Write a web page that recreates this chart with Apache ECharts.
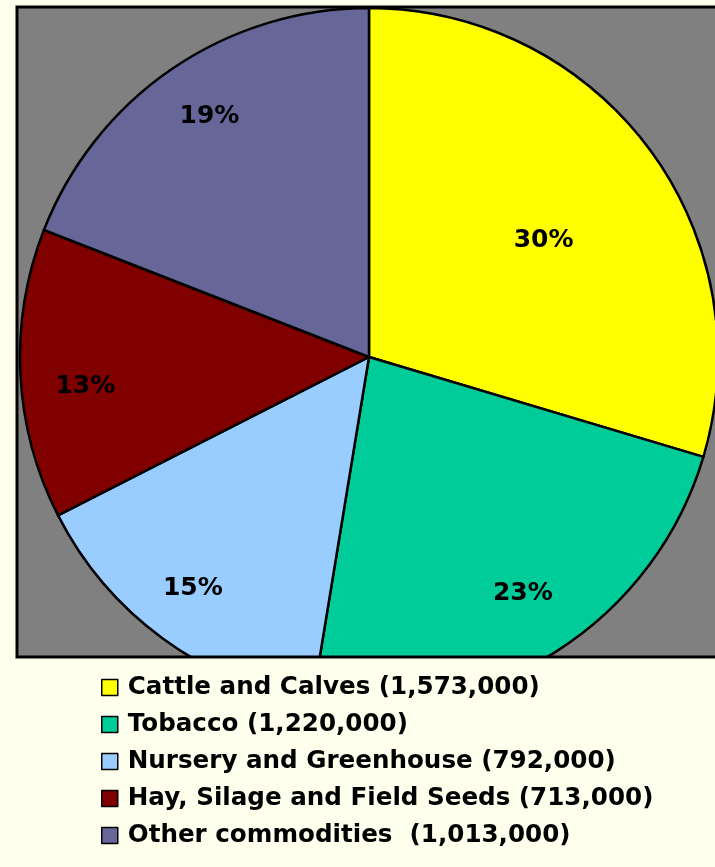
<!DOCTYPE html>
<html>
<head>
<meta charset="utf-8">
<script src="https://cdn.jsdelivr.net/npm/echarts@6/dist/echarts.min.js"></script>
<style>
  html, body { margin: 0; padding: 0; background: #FFFFEE; }
  #chart { width: 715px; height: 867px; }
</style>
</head>
<body>
<div id="chart"></div>
<script>
  // commodity names and cash receipts (legend values)
  const categories = ['Cattle and Calves', 'Tobacco', 'Nursery and Greenhouse', 'Hay, Silage and Field Seeds', 'Other commodities '];
  const values = [1573000, 1220000, 792000, 713000, 1013000];
  const colors = ['#FFFF00', '#00CC99', '#99CCFF', '#800000', '#666699'];

  // small nudges so the % labels sit where the original puts them
  const labelNudge = [[-58, 57], [0, -9], [-5, -3], [6, 15], [4, -1]];

  const pieData = categories.map((name, i) => ({ name: name, value: values[i] }));
  const labelData = categories.map((name, i) => ({
    name: name, value: values[i], label: { offset: labelNudge[i] }
  }));

  const chart = echarts.init(document.getElementById('chart'));
  const bg = '#FFFFEE';

  const option = {
    backgroundColor: bg,
    animation: false,
    color: colors,
    graphic: [
      // gray plot area
      { type: 'rect', z: 0, shape: { x: 17, y: 7, width: 740, height: 650 },
        style: { fill: '#808080' } },
      // legend area hides the bottom of the pie
      { type: 'rect', z: 3, shape: { x: 0, y: 657, width: 715, height: 210 },
        style: { fill: bg } },
      // frame
      { type: 'rect', z: 3, shape: { x: 17, y: 7, width: 740, height: 650 },
        style: { fill: null, stroke: '#000', lineWidth: 3 } }
    ],
    legend: {
      orient: 'vertical',
      left: 101,
      top: 675,
      padding: 0,
      itemWidth: 16,
      itemHeight: 16,
      itemGap: 12,
      icon: 'rect',
      data: categories,
      itemStyle: { borderColor: '#000', borderWidth: 1.5 },
      textStyle: {
        fontFamily: 'DejaVu Sans',
        fontWeight: 'bold',
        fontSize: 24.6,
        lineHeight: 24,
        color: '#000',
        padding: [0, 0, 0, 5]
      },
      formatter: function (name) {
        const i = categories.indexOf(name);
        return name + ' (' + values[i].toLocaleString('en-US') + ')';
      }
    },
    series: [
      {
        type: 'pie',
        center: [369, 357],
        radius: 349,
        startAngle: 90,
        clockwise: true,
        silent: true,
        label: { show: false },
        labelLine: { show: false },
        itemStyle: { borderColor: '#000', borderWidth: 2.5 },
        data: pieData
      },
      {
        type: 'pie',
        center: [369, 357],
        radius: [0, 574],
        startAngle: 90,
        clockwise: true,
        silent: true,
        z: 2,
        percentPrecision: 0,
        itemStyle: { color: 'rgba(0,0,0,0)', borderWidth: 0 },
        labelLine: { show: false },
        label: {
          show: true,
          position: 'inside',
          formatter: '{d}%',
          fontFamily: 'DejaVu Sans',
          fontWeight: 'bold',
          fontSize: 25,
          color: '#000'
        },
        data: labelData
      }
    ]
  };

  chart.setOption(option);
</script>
</body>
</html>
